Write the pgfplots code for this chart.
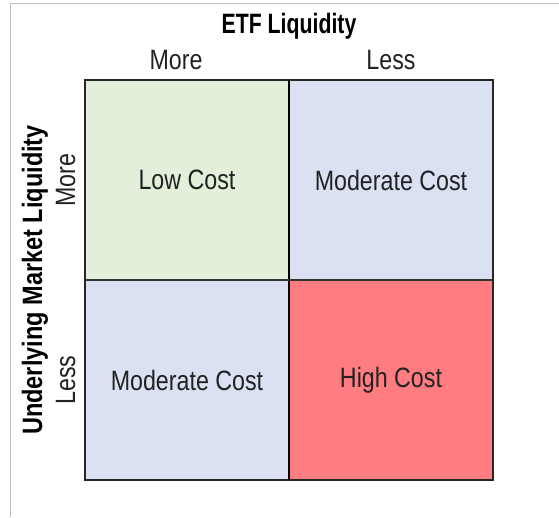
\documentclass[border=0pt]{standalone}
\usepackage{fontspec}
\setmainfont[FakeStretch=0.83]{Liberation Sans}
\newfontfamily\tfont[FakeStretch=0.76]{Liberation Sans Bold}
\newfontfamily\vfont[FakeStretch=0.84]{Liberation Sans Bold}
\usepackage{pgfplots}
\pgfplotsset{compat=1.18}
\definecolor{cgreen}{HTML}{E2EFDA}
\definecolor{cblue}{HTML}{D9E1F2}
\definecolor{cred}{HTML}{FF7C80}
\definecolor{txt}{HTML}{222222}
\begin{document}
\begin{tikzpicture}
\path[use as bounding box] (-85pt,-37pt) rectangle (474pt,480pt);
\draw[gray!50, line width=1pt] (-74pt,-37pt) -- (-74pt,476pt) -- (474pt,476pt);
\begin{axis}[
  at={(0pt,0pt)}, anchor=south west,
  scale only axis, width=408pt, height=400pt,
  xmin=0, xmax=2, ymin=0, ymax=2,
  hide axis, clip=false,
]
% top-left: low cost
\addplot[fill=cgreen, draw=black!85, line width=1.2pt] coordinates {(0,1) (1,1) (1,2) (0,2)} -- cycle;
% top-right: moderate
\addplot[fill=cblue, draw=black!85, line width=1.2pt] coordinates {(1,1) (2,1) (2,2) (1,2)} -- cycle;
% bottom-left: moderate
\addplot[fill=cblue, draw=black!85, line width=1.2pt] coordinates {(0,0) (1,0) (1,1) (0,1)} -- cycle;
% bottom-right: high
\addplot[fill=cred, draw=black!85, line width=1.2pt] coordinates {(1,0) (2,0) (2,1) (1,1)} -- cycle;
\addplot[black, line width=1.8pt] coordinates {(1,0) (1,2)};
\addplot[black!80, line width=1.4pt] coordinates {(0,1) (2,1)};
\node[font=\fontsize{28}{30}\selectfont, text=txt] at (axis cs:0.5,1.5) {Low Cost};
\node[font=\fontsize{28}{30}\selectfont, text=txt] at (axis cs:1.5,1.5) {Moderate Cost};
\node[font=\fontsize{28}{30}\selectfont, text=txt] at (axis cs:0.5,0.5) {Moderate Cost};
\node[font=\fontsize{28}{30}\selectfont, text=txt] at (axis cs:1.5,0.5) {High Cost};
\end{axis}
\node[font=\tfont\fontsize{28}{30}\selectfont, anchor=base] at (204pt,446pt) {ETF Liquidity};
\node[font=\fontsize{28}{30}\selectfont, text=txt, anchor=base] at (91pt,410pt) {More};
\node[font=\fontsize{28}{30}\selectfont, text=txt, anchor=base] at (306pt,410pt) {Less};
\node[font=\vfont\fontsize{28}{30}\selectfont, anchor=base, rotate=90] at (-43pt,200pt) {Underlying Market Liquidity};
\node[font=\fontsize{28}{30}\selectfont, text=txt, anchor=base, rotate=90] at (-10pt,300pt) {More};
\node[font=\fontsize{28}{30}\selectfont, text=txt, anchor=base, rotate=90] at (-10pt,100pt) {Less};
\end{tikzpicture}
\end{document}
